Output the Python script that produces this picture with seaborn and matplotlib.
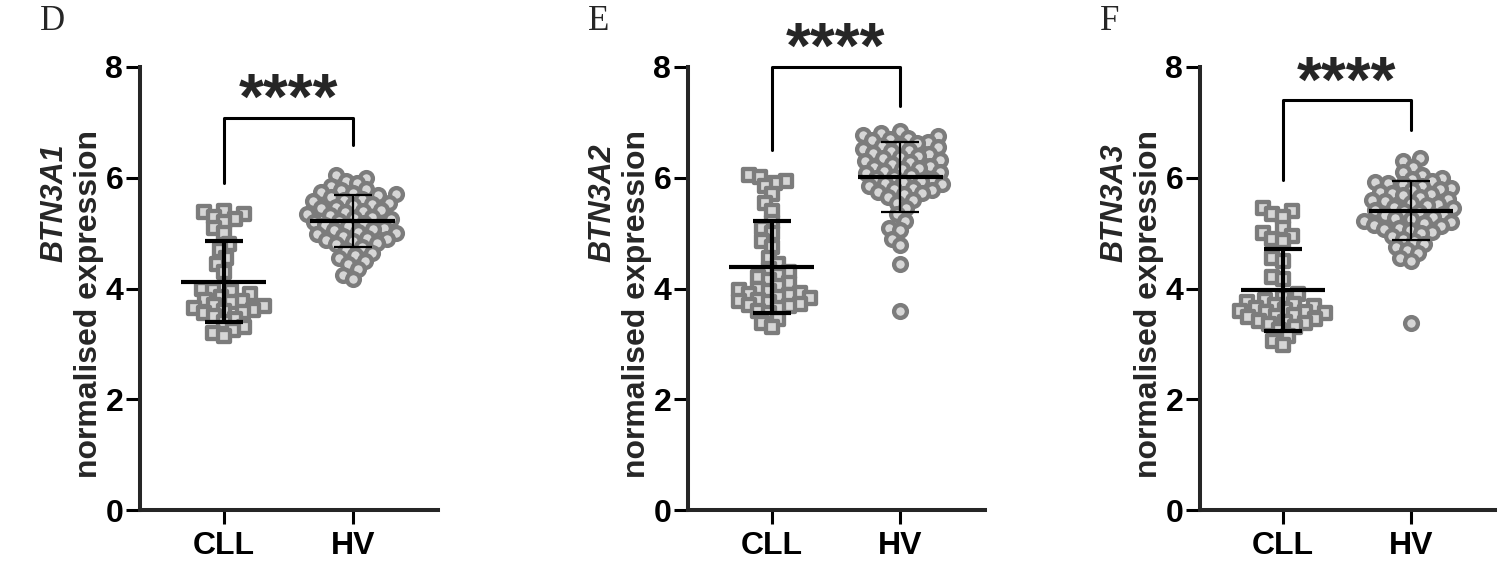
import numpy as np
import pandas as pd
import matplotlib.pyplot as plt
import seaborn as sns

# Values (normalised expression)
groups = ['CLL', 'HV']
genes = ['BTN3A1', 'BTN3A2', 'BTN3A3']
panel_letters = ['D', 'E', 'F']
y_ticks = [0, 2, 4, 6, 8]

btn3a1_cll = [5.40, 5.38, 5.35, 5.30, 5.25, 5.20, 5.10, 5.00,
              4.80, 4.70, 4.55, 4.45, 4.30,
              4.00, 3.98, 3.95, 3.90, 3.85, 3.80, 3.78, 3.75, 3.70, 3.68, 3.65,
              3.62, 3.60, 3.58, 3.55, 3.50, 3.45, 3.40,
              3.30, 3.25, 3.20, 3.15]
btn3a1_hv = [6.05, 6.00, 5.95, 5.90, 5.85,
             5.80, 5.78, 5.75, 5.72, 5.70, 5.68, 5.65, 5.62, 5.60, 5.58, 5.55,
             5.52, 5.50, 5.48, 5.45, 5.42, 5.40, 5.38, 5.35, 5.32, 5.30, 5.28,
             5.25, 5.22, 5.20, 5.18, 5.15, 5.12, 5.10, 5.08, 5.05, 5.02, 5.00,
             4.98, 4.95, 4.92, 4.90, 4.88, 4.85, 4.82, 4.80,
             4.75, 4.70, 4.65, 4.60, 4.55, 4.50, 4.45, 4.35, 4.25, 4.18]

btn3a2_cll = [6.05, 6.02, 5.95, 5.90, 5.85, 5.70, 5.55, 5.40,
              5.20, 5.10, 5.00, 4.85, 4.75, 4.55, 4.45,
              4.35, 4.30, 4.25, 4.20, 4.15, 4.10, 4.05, 4.00, 3.98,
              3.95, 3.92, 3.90, 3.88, 3.85, 3.82, 3.80, 3.78, 3.75, 3.72, 3.70,
              3.68, 3.65, 3.60, 3.55, 3.45, 3.38, 3.30]
btn3a2_hv = [6.85, 6.80, 6.78, 6.75, 6.72, 6.70, 6.68, 6.65, 6.62, 6.60,
             6.58, 6.55, 6.52, 6.50, 6.48, 6.45, 6.42, 6.40, 6.38, 6.35,
             6.32, 6.30, 6.28, 6.25, 6.22, 6.20, 6.18, 6.15, 6.12, 6.10,
             6.08, 6.05, 6.02, 6.00, 5.98, 5.95, 5.92, 5.90, 5.88, 5.85,
             5.82, 5.80, 5.78, 5.75, 5.72, 5.70,
             5.65, 5.60, 5.55, 5.45, 5.35, 5.22, 5.10, 5.05, 4.90, 4.78, 4.45, 3.60]

btn3a3_cll = [5.45, 5.40, 5.35, 5.30, 5.10, 5.00, 4.95, 4.90, 4.85,
              4.55, 4.50, 4.20, 4.18,
              3.90, 3.85, 3.80, 3.75, 3.72, 3.70, 3.68, 3.65, 3.62, 3.60, 3.58,
              3.58, 3.55, 3.52, 3.50, 3.48, 3.45, 3.42, 3.40, 3.38,
              3.35, 3.30, 3.25, 3.15, 3.05, 2.98]
btn3a3_hv = [6.35, 6.30, 6.20, 6.10, 6.05,
             6.00, 5.98, 5.95, 5.92, 5.90, 5.88, 5.85, 5.82, 5.80, 5.78, 5.75,
             5.72, 5.70, 5.68, 5.65, 5.62, 5.60, 5.58, 5.55, 5.52, 5.50, 5.48,
             5.45, 5.42, 5.40, 5.38, 5.35, 5.32, 5.30, 5.28, 5.25, 5.22, 5.20,
             5.18, 5.15, 5.12, 5.10, 5.08, 5.05, 5.02, 5.00,
             4.95, 4.90, 4.85, 4.80, 4.75, 4.70, 4.65, 4.55, 4.50, 3.38]

cll_values = [btn3a1_cll, btn3a2_cll, btn3a3_cll]
hv_values = [btn3a1_hv, btn3a2_hv, btn3a3_hv]

# significance brackets: top, end of CLL leg, end of HV leg
bracket_top = [7.08, 8.0, 7.4]
bracket_cll_end = [5.9, 6.5, 5.96]
bracket_hv_end = [6.6, 7.3, 6.86]
star_label = '****'

sns.set_style('ticks')
plt.rcParams['font.family'] = ['Liberation Sans', 'DejaVu Sans']
plt.rcParams['font.weight'] = 'bold'

fill_col = '#d6d6d6'
edge_col = '#7c7c7c'

fig = plt.figure(figsize=(15.05, 5.72), dpi=100)
W, H = 1505, 572
axes_left = [140, 688, 1200]
axes_width = [298, 297, 295]
y0_px, y8_px = 510, 67

axes = []
for k in range(3):
    ax = fig.add_axes([axes_left[k] / W, 1 - y0_px / H, axes_width[k] / W, (y0_px - y8_px) / H])
    axes.append(ax)
    df = pd.DataFrame({
        'group': ['CLL'] * len(cll_values[k]) + ['HV'] * len(hv_values[k]),
        'value': cll_values[k] + hv_values[k],
    })
    for g, mk in zip(groups, ['s', 'o']):
        sns.swarmplot(data=df[df['group'] == g], x='group', y='value', order=groups,
                      marker=mk, size=6.2, color=fill_col, edgecolor=edge_col,
                      linewidth=1.4, ax=ax, zorder=2)

    # mean +/- SD
    for i, g in enumerate(groups):
        vals = np.array(df.loc[df['group'] == g, 'value'])
        m, sd = vals.mean(), vals.std(ddof=1)
        lw = 3.0 if g == 'CLL' else 1.6
        ax.errorbar(i, m, yerr=sd, fmt='none', ecolor='black', elinewidth=lw,
                    capsize=14, capthick=lw, zorder=5)
        ax.hlines(m, i - 0.33, i + 0.33, color='black', lw=3.0, zorder=6)

    # bracket + stars
    ax.plot([0, 0, 1, 1], [bracket_cll_end[k], bracket_top[k], bracket_top[k], bracket_hv_end[k]],
            color='black', lw=2.2, clip_on=False, zorder=6)
    ax.text(0.5, bracket_top[k] - 0.02, star_label, ha='center', va='baseline',
            fontsize=46, fontweight='bold', clip_on=False)

    ax.set_xlim(-0.65, 1.66)
    ax.set_ylim(0, 8)
    ax.set_yticks(y_ticks)
    ax.set_xlabel('')
    ax.set_ylabel('')
    sns.despine(ax=ax)
    for s in ['left', 'bottom']:
        ax.spines[s].set_linewidth(2.9)
    ax.tick_params(axis='both', width=2.2, length=10, labelsize=23, colors='black')
    ax.tick_params(axis='y', pad=2)
    ax.tick_params(axis='x', pad=5)
    for lab in ax.get_xticklabels() + ax.get_yticklabels():
        lab.set_fontweight('bold')

    wpx = axes_width[k]
    ax.text(-86 / wpx, 0.828, genes[k], transform=ax.transAxes, rotation=90,
            ha='center', va='top', fontsize=22, fontweight='bold', style='italic')
    ax.text(-51 / wpx, 0.858, 'normalised expression', transform=ax.transAxes, rotation=90,
            ha='center', va='top', fontsize=23, fontweight='bold')
    fig.text((axes_left[k] - 100) / W, 1 - 30 / H, panel_letters[k],
             family='Liberation Serif', fontweight='normal', fontsize=25,
             ha='left', va='baseline')

# lay out the swarms with small markers, then freeze them and enlarge the markers
fig.canvas.draw()
for ax in axes:
    for c in ax.collections:
        if 'draw' in vars(c):
            del c.draw
            c.set_sizes([85])
            c.set_linewidth(3.1)

fig.savefig('out.png', dpi=100)
